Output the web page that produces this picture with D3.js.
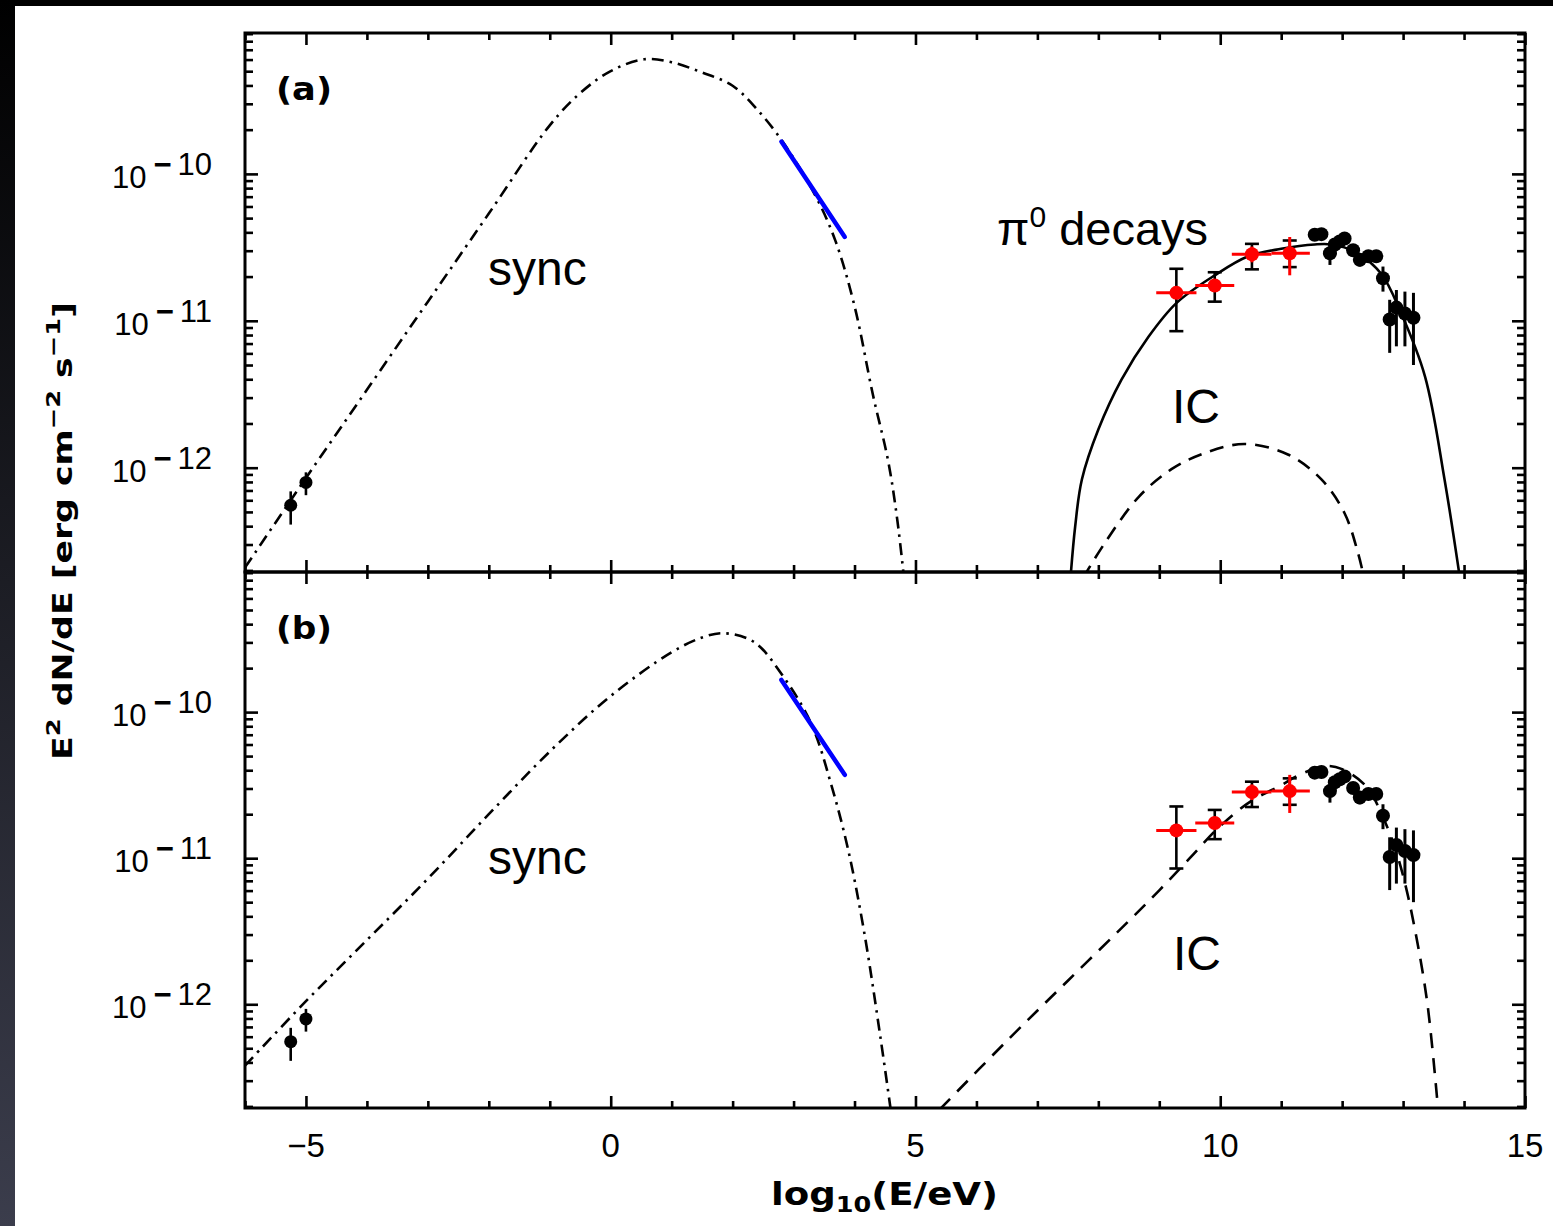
<!DOCTYPE html>
<html><head><meta charset="utf-8">
<script src="https://cdn.jsdelivr.net/npm/d3@7"></script>
<style>body{margin:0;background:#000;} svg{display:block}</style>
</head><body><svg id="c" width="1553" height="1226"></svg>
<script>
// ---------- data (x = log10(E/eV), y = E^2 dN/dE in erg cm^-2 s^-1) ----------
const syncA_logE = [-6.0,-5.0,-4.0,-3.0,-2.0,-1.0,-0.5,0.0,0.55,1.0,1.5,2.0,2.4,2.82,3.36,3.69,4.0,4.3,4.55,4.7,4.85];
const syncA_flux = [2.09e-13,8.51e-13,3.39e-12,1.35e-11,5.37e-11,2.14e-10,3.55e-10,5.01e-10,6.03e-10,5.75e-10,4.90e-10,3.98e-10,2.75e-10,1.66e-10,7.08e-11,3.47e-11,1.26e-11,3.16e-12,1.12e-12,4.47e-13,1.26e-13];

const syncB_logE = [-6.0,-5.0,-4.0,-3.0,-2.0,-1.0,0.0,1.0,1.5,1.85,2.35,2.82,3.29,3.62,3.89,4.16,4.43,4.62];
const syncB_flux = [3.80e-13,1.05e-12,2.75e-12,7.24e-12,2.00e-11,5.37e-11,1.29e-10,2.57e-10,3.24e-10,3.47e-10,3.02e-10,1.78e-10,8.32e-11,3.16e-11,1.17e-11,3.09e-12,5.75e-13,1.58e-13];

const xray_logE = [2.80,3.84];
const xray_flux = [1.66e-10,3.72e-11];

const pi0A_logE = [7.54,7.62,7.73,8.0,8.38,8.82,9.28,9.91,10.46,11.0,11.55,11.82,12.21,12.64,12.97,13.36,13.68,13.95];
const pi0A_flux = [1.70e-13,3.98e-13,8.32e-13,1.82e-12,3.98e-12,7.76e-12,1.32e-11,2.04e-11,2.75e-11,3.09e-11,3.31e-11,3.31e-11,2.95e-11,2.09e-11,1.12e-11,4.17e-12,8.32e-13,1.58e-13];

const icA_logE = [7.75,8.11,8.66,9.2,9.75,10.40,11.11,11.66,12.04,12.26,12.36];
const icA_flux = [1.78e-13,3.09e-13,6.31e-13,9.77e-13,1.26e-12,1.45e-12,1.23e-12,8.32e-13,4.90e-13,2.63e-13,1.78e-13];

const icB_logE = [5.40,6.5,7.5,8.5,9.0,9.5,10.0,10.5,11.0,11.3,11.72,12.0,12.4,12.66,12.86,13.03,13.2,13.4,13.58];
const icB_flux = [1.91e-13,5.62e-13,1.45e-12,3.72e-12,6.03e-12,1.00e-11,1.66e-11,2.45e-11,3.16e-11,3.72e-11,4.27e-11,4.07e-11,3.09e-11,1.95e-11,1.20e-11,6.76e-12,3.16e-12,1.00e-12,1.78e-13];

// radio points
const radio_logE = [-5.25,-5.0];
const radio_flux = [5.55e-13,7.94e-13];
const radio_lo   = [4.1e-13,6.5e-13];
const radio_hi   = [6.9e-13,9.3e-13];

// Fermi (red) points
const fermi_logE   = [9.28,9.91,10.52,11.14];
const fermi_logElo = [8.95,9.59,10.19,10.84];
const fermi_logEhi = [9.61,10.23,10.84,11.47];
const fermi_flux   = [1.55e-11,1.74e-11,2.84e-11,2.88e-11];
const fermi_lo     = [8.5e-12,1.35e-11,2.24e-11,2.32e-11];
const fermi_hi     = [2.26e-11,2.14e-11,3.34e-11,3.52e-11];
const fermi_redLo  = [null,null,2.5e-11,2.04e-11];
const fermi_redHi  = [null,null,3.2e-11,3.72e-11];

// HESS (black) points
const hess_logE = [11.55,11.66,11.80,11.88,11.96,12.04,12.18,12.29,12.43,12.56,12.67,12.78,12.89,13.03,13.17];
const hess_flux = [3.85e-11,3.89e-11,2.88e-11,3.31e-11,3.47e-11,3.63e-11,3.02e-11,2.60e-11,2.75e-11,2.75e-11,1.95e-11,1.02e-11,1.23e-11,1.12e-11,1.05e-11];
const hess_lo   = [3.55e-11,3.60e-11,2.40e-11,3.05e-11,3.20e-11,3.35e-11,2.78e-11,2.34e-11,2.52e-11,2.52e-11,1.58e-11,6.05e-12,6.7e-12,6.7e-12,5.0e-12];
const hess_hi   = [4.15e-11,4.20e-11,3.20e-11,3.58e-11,3.75e-11,3.90e-11,3.26e-11,2.84e-11,2.98e-11,2.98e-11,2.34e-11,1.39e-11,1.62e-11,1.58e-11,1.55e-11];

const xTickMajor = [-5,0,5,10,15];
const yTickMajor = [1e-10,1e-11,1e-12];
const yTickLabels = ["10","10","10"];
const yTickExps = ["10","11","12"];

// ---------- drawing ----------
const svg = d3.select("#c");
const W = 1553, H = 1226;
const defs = svg.append("defs");
const grad = defs.append("linearGradient").attr("id","lg").attr("x1",0).attr("y1",0).attr("x2",0).attr("y2",1);
grad.append("stop").attr("offset","0").attr("stop-color","#000");
grad.append("stop").attr("offset","1").attr("stop-color","#3b3d4c");
svg.append("rect").attr("width",W).attr("height",H).attr("fill","#000");
svg.append("rect").attr("x",0).attr("y",0).attr("width",15).attr("height",H).attr("fill","url(#lg)");
svg.append("rect").attr("x",15).attr("y",6).attr("width",W-15).attr("height",H-6).attr("fill","#fff");

const x = d3.scaleLinear().domain([-6,15]).range([245,1525]);
const yDomain = [1.95e-13, 9.1e-10];
const panels = [
  {top:33, bottom:572, label:"(a)", id:"a"},
  {top:572, bottom:1108, label:"(b)", id:"b"}
];

function pts(xs, ys){ return xs.map((v,i)=>[v, ys[i]]); }

panels.forEach(p => {
  const y = d3.scaleLog().domain(yDomain).range([p.bottom, p.top]);
  defs.append("clipPath").attr("id","clip"+p.id)
    .append("rect").attr("x",245).attr("y",p.top).attr("width",1280).attr("height",p.bottom-p.top);
  const g = svg.append("g");
  const gc = g.append("g").attr("clip-path","url(#clip"+p.id+")");
  const line = d3.line().x(d=>x(d[0])).y(d=>y(d[1])).curve(d3.curveCatmullRom.alpha(0.5));

  // ticks
  const allY = y.ticks(40).filter(v=>v>=yDomain[0] && v<=yDomain[1]);
  const majY = allY.filter(v=>Math.abs(Math.log10(v)-Math.round(Math.log10(v)))<1e-9);
  const minY = allY.filter(v=>!majY.includes(v));
  const allX = d3.range(-6,16,1);
  const majX = allX.filter(v=>v%5===0);
  const minX = allX.filter(v=>v%5!==0);
  const tickStyle = s => s.call(gg=>{gg.select(".domain").remove(); gg.selectAll("line").attr("stroke","#000").attr("stroke-width",2.6);});
  g.append("g").attr("transform","translate(245,0)").call(d3.axisLeft(y).tickValues(majY).tickSize(-13).tickFormat("")).call(tickStyle);
  g.append("g").attr("transform","translate(245,0)").call(d3.axisLeft(y).tickValues(minY).tickSize(-8).tickFormat("")).call(tickStyle);
  g.append("g").attr("transform","translate(1525,0)").call(d3.axisRight(y).tickValues(majY).tickSize(-13).tickFormat("")).call(tickStyle);
  g.append("g").attr("transform","translate(1525,0)").call(d3.axisRight(y).tickValues(minY).tickSize(-8).tickFormat("")).call(tickStyle);
  g.append("g").attr("transform",`translate(0,${p.top})`).call(d3.axisTop(x).tickValues(majX).tickSize(-12).tickFormat("")).call(tickStyle);
  g.append("g").attr("transform",`translate(0,${p.top})`).call(d3.axisTop(x).tickValues(minX).tickSize(-7).tickFormat("")).call(tickStyle);
  g.append("g").attr("transform",`translate(0,${p.bottom})`).call(d3.axisBottom(x).tickValues(majX).tickSize(-12).tickFormat("")).call(tickStyle);
  g.append("g").attr("transform",`translate(0,${p.bottom})`).call(d3.axisBottom(x).tickValues(minX).tickSize(-7).tickFormat("")).call(tickStyle);

  // y tick labels
  yTickMajor.forEach((v,i)=>{
    const t = g.append("text").attr("x",212).attr("y",y(v)+14).attr("text-anchor","end")
      .attr("font-family","Liberation Sans, Arial, sans-serif").attr("font-size",31).attr("fill","#000");
    t.append("tspan").text(yTickLabels[i]);
    t.append("tspan").attr("dy",-13).attr("dx",7).attr("font-weight","bold").text("\u2212");
    t.append("tspan").attr("dx",6).text(yTickExps[i]);
  });

  // curves
  const sync = p.id==="a" ? pts(syncA_logE, syncA_flux) : pts(syncB_logE, syncB_flux);
  gc.append("path").attr("d", line(sync)).attr("fill","none").attr("stroke","#000")
    .attr("stroke-width",2.6).attr("stroke-dasharray","12,6,2.5,6");
  if (p.id==="a") {
    gc.append("path").attr("d", line(pts(pi0A_logE, pi0A_flux))).attr("fill","none").attr("stroke","#000").attr("stroke-width",2.6);
    gc.append("path").attr("d", line(pts(icA_logE, icA_flux))).attr("fill","none").attr("stroke","#000")
      .attr("stroke-width",2.6).attr("stroke-dasharray","14,9");
  } else {
    gc.append("path").attr("d", line(pts(icB_logE, icB_flux))).attr("fill","none").attr("stroke","#000")
      .attr("stroke-width",2.6).attr("stroke-dasharray","15,10");
  }
  gc.append("path").attr("d", d3.line().x(d=>x(d[0])).y(d=>y(d[1]))(pts(xray_logE, xray_flux)))
    .attr("fill","none").attr("stroke","#0000ff").attr("stroke-width",4.5).attr("stroke-linecap","round");

  // radio points
  radio_logE.forEach((e,i)=>{
    gc.append("line").attr("x1",x(e)).attr("x2",x(e)).attr("y1",y(radio_lo[i])).attr("y2",y(radio_hi[i])).attr("stroke","#000").attr("stroke-width",2.6);
    gc.append("circle").attr("cx",x(e)).attr("cy",y(radio_flux[i])).attr("r",6.5).attr("fill","#000");
  });
  // HESS points
  hess_logE.forEach((e,i)=>{
    gc.append("line").attr("x1",x(e)).attr("x2",x(e)).attr("y1",y(hess_lo[i])).attr("y2",y(hess_hi[i])).attr("stroke","#000").attr("stroke-width",3);
  });
  hess_logE.forEach((e,i)=>{
    gc.append("circle").attr("cx",x(e)).attr("cy",y(hess_flux[i])).attr("r",7).attr("fill","#000");
  });
  // Fermi points
  fermi_logE.forEach((e,i)=>{
    const cx = x(e), cy = y(fermi_flux[i]);
    gc.append("line").attr("x1",cx).attr("x2",cx).attr("y1",y(fermi_lo[i])).attr("y2",y(fermi_hi[i])).attr("stroke","#000").attr("stroke-width",2.6);
    [fermi_lo[i], fermi_hi[i]].forEach(v=>{
      gc.append("line").attr("x1",cx-7).attr("x2",cx+7).attr("y1",y(v)).attr("y2",y(v)).attr("stroke","#000").attr("stroke-width",2.6);
    });
    gc.append("line").attr("x1",x(fermi_logElo[i])).attr("x2",x(fermi_logEhi[i])).attr("y1",cy).attr("y2",cy).attr("stroke","#ff0000").attr("stroke-width",3);
    if (fermi_redLo[i]!==null) {
      gc.append("line").attr("x1",cx).attr("x2",cx).attr("y1",y(fermi_redLo[i])).attr("y2",y(fermi_redHi[i])).attr("stroke","#ff0000").attr("stroke-width",3);
    }
    gc.append("circle").attr("cx",cx).attr("cy",cy).attr("r",7).attr("fill","#ff0000");
  });

  // panel label
  g.append("text").attr("x",276).attr("y",p.top+67).attr("font-family","DejaVu Sans, sans-serif")
    .attr("font-weight","bold").attr("font-size",32).attr("textLength",56).attr("lengthAdjust","spacingAndGlyphs").text(p.label);
  // annotations
  const ann = (tx,ty,txt)=> g.append("text").attr("x",tx).attr("y",ty)
    .attr("font-family","Liberation Sans, Arial, sans-serif").attr("font-size",48).attr("fill","#000").text(txt);
  if (p.id==="a") {
    ann(488,285,"sync");
    ann(1172,423,"IC");
    const t = g.append("text").attr("x",997).attr("y",245).attr("font-family","Liberation Sans, Arial, sans-serif").attr("font-size",47);
    t.append("tspan").text("\u03c0");
    t.append("tspan").attr("dy",-18).attr("font-size",30).text("0");
    t.append("tspan").attr("dy",18).text(" decays");
  } else {
    ann(488,874,"sync");
    ann(1173,970,"IC");
  }

  // frame
  g.append("rect").attr("x",245).attr("y",p.top).attr("width",1280).attr("height",p.bottom-p.top)
    .attr("fill","none").attr("stroke","#000").attr("stroke-width",3);
});

// x tick labels
xTickMajor.forEach(v=>{
  svg.append("text").attr("x",x(v)).attr("y",1157).attr("text-anchor","middle")
    .attr("font-family","Liberation Sans, Arial, sans-serif").attr("font-size",33).attr("fill","#000")
    .text(v<0 ? "\u2212"+Math.abs(v) : String(v));
});

// x axis title
const xt = svg.append("text").attr("x",771).attr("y",1205).attr("font-family","DejaVu Sans, sans-serif")
  .attr("font-weight","bold").attr("font-size",32).attr("fill","#000")
  .attr("textLength",227).attr("lengthAdjust","spacingAndGlyphs");
xt.append("tspan").text("log");
xt.append("tspan").attr("dy",7).attr("font-size",22).text("10");
xt.append("tspan").attr("dy",-7).text("(E/eV)");

// y axis title
const yt = svg.append("text").attr("transform","translate(72,531) rotate(-90)").attr("text-anchor","middle")
  .attr("font-family","DejaVu Sans, sans-serif").attr("font-weight","bold").attr("font-size",27).attr("fill","#000")
  .attr("textLength",458).attr("lengthAdjust","spacingAndGlyphs");
yt.append("tspan").text("E");
yt.append("tspan").attr("dy",-12).attr("font-size",20).text("2");
yt.append("tspan").attr("dy",12).text(" dN/dE [erg cm");
yt.append("tspan").attr("dy",-12).attr("font-size",20).text("\u22122");
yt.append("tspan").attr("dy",12).text(" s");
yt.append("tspan").attr("dy",-12).attr("font-size",20).text("\u22121");
yt.append("tspan").attr("dy",12).text("]");
</script></body></html>
